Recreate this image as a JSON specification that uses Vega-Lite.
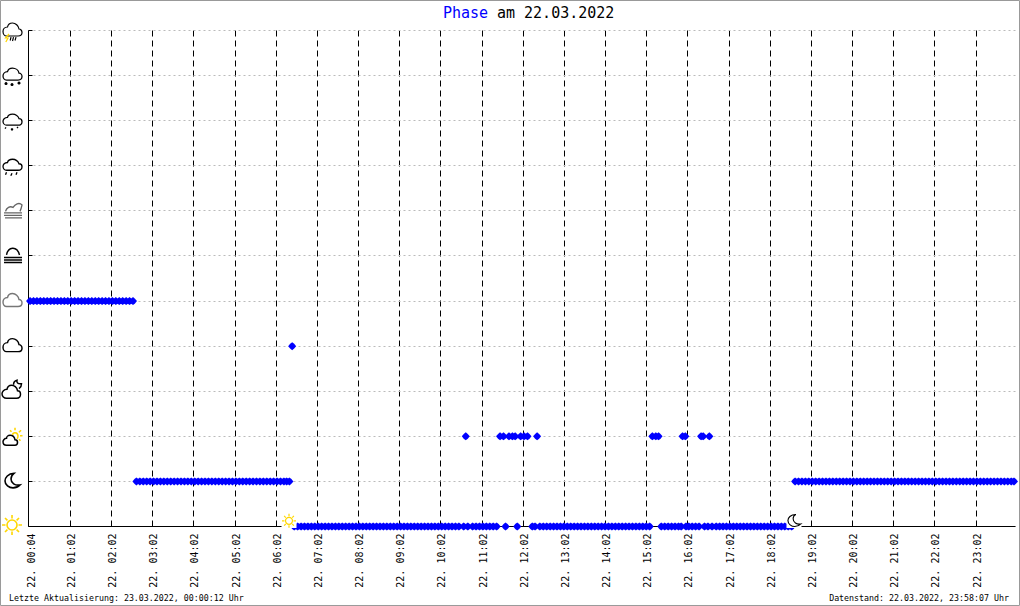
{
"$schema":"https://vega.github.io/schema/vega-lite/v6.json",
"autosize":{"type":"none"},
"padding":{"left":28,"top":30,"right":5,"bottom":80},
"width":987,"height":496,
"background":"#ffffff",
"config":{"view":{"stroke":null},"font":"DejaVu Sans Mono"},
"layer":[
{"data":{"values":[
{"t":"2022-03-22T00:04Z","phase":5},{"t":"2022-03-22T00:09Z","phase":5},{"t":"2022-03-22T00:14Z","phase":5},{"t":"2022-03-22T00:19Z","phase":5},{"t":"2022-03-22T00:24Z","phase":5},{"t":"2022-03-22T00:29Z","phase":5},{"t":"2022-03-22T00:34Z","phase":5},{"t":"2022-03-22T00:39Z","phase":5},{"t":"2022-03-22T00:44Z","phase":5},{"t":"2022-03-22T00:49Z","phase":5},{"t":"2022-03-22T00:54Z","phase":5},{"t":"2022-03-22T00:59Z","phase":5},
{"t":"2022-03-22T01:04Z","phase":5},{"t":"2022-03-22T01:09Z","phase":5},{"t":"2022-03-22T01:14Z","phase":5},{"t":"2022-03-22T01:19Z","phase":5},{"t":"2022-03-22T01:24Z","phase":5},{"t":"2022-03-22T01:29Z","phase":5},{"t":"2022-03-22T01:34Z","phase":5},{"t":"2022-03-22T01:39Z","phase":5},{"t":"2022-03-22T01:44Z","phase":5},{"t":"2022-03-22T01:49Z","phase":5},{"t":"2022-03-22T01:54Z","phase":5},{"t":"2022-03-22T01:59Z","phase":5},
{"t":"2022-03-22T02:04Z","phase":5},{"t":"2022-03-22T02:09Z","phase":5},{"t":"2022-03-22T02:14Z","phase":5},{"t":"2022-03-22T02:19Z","phase":5},{"t":"2022-03-22T02:24Z","phase":5},{"t":"2022-03-22T02:29Z","phase":5},{"t":"2022-03-22T02:34Z","phase":5},
{"t":"2022-03-22T02:39Z","phase":1},{"t":"2022-03-22T02:44Z","phase":1},{"t":"2022-03-22T02:49Z","phase":1},{"t":"2022-03-22T02:54Z","phase":1},{"t":"2022-03-22T02:59Z","phase":1},
{"t":"2022-03-22T03:04Z","phase":1},{"t":"2022-03-22T03:09Z","phase":1},{"t":"2022-03-22T03:14Z","phase":1},{"t":"2022-03-22T03:19Z","phase":1},{"t":"2022-03-22T03:24Z","phase":1},{"t":"2022-03-22T03:29Z","phase":1},{"t":"2022-03-22T03:34Z","phase":1},{"t":"2022-03-22T03:39Z","phase":1},{"t":"2022-03-22T03:44Z","phase":1},{"t":"2022-03-22T03:49Z","phase":1},{"t":"2022-03-22T03:54Z","phase":1},{"t":"2022-03-22T03:59Z","phase":1},
{"t":"2022-03-22T04:04Z","phase":1},{"t":"2022-03-22T04:09Z","phase":1},{"t":"2022-03-22T04:14Z","phase":1},{"t":"2022-03-22T04:19Z","phase":1},{"t":"2022-03-22T04:24Z","phase":1},{"t":"2022-03-22T04:29Z","phase":1},{"t":"2022-03-22T04:34Z","phase":1},{"t":"2022-03-22T04:39Z","phase":1},{"t":"2022-03-22T04:44Z","phase":1},{"t":"2022-03-22T04:49Z","phase":1},{"t":"2022-03-22T04:54Z","phase":1},{"t":"2022-03-22T04:59Z","phase":1},
{"t":"2022-03-22T05:04Z","phase":1},{"t":"2022-03-22T05:09Z","phase":1},{"t":"2022-03-22T05:14Z","phase":1},{"t":"2022-03-22T05:19Z","phase":1},{"t":"2022-03-22T05:24Z","phase":1},{"t":"2022-03-22T05:29Z","phase":1},{"t":"2022-03-22T05:34Z","phase":1},{"t":"2022-03-22T05:39Z","phase":1},{"t":"2022-03-22T05:44Z","phase":1},{"t":"2022-03-22T05:49Z","phase":1},{"t":"2022-03-22T05:54Z","phase":1},{"t":"2022-03-22T05:59Z","phase":1},
{"t":"2022-03-22T06:04Z","phase":1},{"t":"2022-03-22T06:09Z","phase":1},{"t":"2022-03-22T06:14Z","phase":1},{"t":"2022-03-22T06:18Z","phase":1},{"t":"2022-03-22T06:22Z","phase":1},
{"t":"2022-03-22T06:26Z","phase":4},
{"t":"2022-03-22T06:29Z","phase":0},{"t":"2022-03-22T06:34Z","phase":0},{"t":"2022-03-22T06:39Z","phase":0},{"t":"2022-03-22T06:44Z","phase":0},{"t":"2022-03-22T06:49Z","phase":0},{"t":"2022-03-22T06:54Z","phase":0},{"t":"2022-03-22T06:59Z","phase":0},
{"t":"2022-03-22T07:04Z","phase":0},{"t":"2022-03-22T07:09Z","phase":0},{"t":"2022-03-22T07:14Z","phase":0},{"t":"2022-03-22T07:19Z","phase":0},{"t":"2022-03-22T07:24Z","phase":0},{"t":"2022-03-22T07:29Z","phase":0},{"t":"2022-03-22T07:34Z","phase":0},{"t":"2022-03-22T07:39Z","phase":0},{"t":"2022-03-22T07:44Z","phase":0},{"t":"2022-03-22T07:49Z","phase":0},{"t":"2022-03-22T07:54Z","phase":0},{"t":"2022-03-22T07:59Z","phase":0},
{"t":"2022-03-22T08:04Z","phase":0},{"t":"2022-03-22T08:09Z","phase":0},{"t":"2022-03-22T08:14Z","phase":0},{"t":"2022-03-22T08:19Z","phase":0},{"t":"2022-03-22T08:24Z","phase":0},{"t":"2022-03-22T08:29Z","phase":0},{"t":"2022-03-22T08:34Z","phase":0},{"t":"2022-03-22T08:39Z","phase":0},{"t":"2022-03-22T08:44Z","phase":0},{"t":"2022-03-22T08:49Z","phase":0},{"t":"2022-03-22T08:54Z","phase":0},{"t":"2022-03-22T08:59Z","phase":0},
{"t":"2022-03-22T09:04Z","phase":0},{"t":"2022-03-22T09:09Z","phase":0},{"t":"2022-03-22T09:14Z","phase":0},{"t":"2022-03-22T09:19Z","phase":0},{"t":"2022-03-22T09:24Z","phase":0},{"t":"2022-03-22T09:29Z","phase":0},{"t":"2022-03-22T09:34Z","phase":0},{"t":"2022-03-22T09:39Z","phase":0},{"t":"2022-03-22T09:44Z","phase":0},{"t":"2022-03-22T09:49Z","phase":0},{"t":"2022-03-22T09:54Z","phase":0},{"t":"2022-03-22T09:59Z","phase":0},
{"t":"2022-03-22T10:04Z","phase":0},{"t":"2022-03-22T10:09Z","phase":0},{"t":"2022-03-22T10:14Z","phase":0},{"t":"2022-03-22T10:19Z","phase":0},{"t":"2022-03-22T10:24Z","phase":0},{"t":"2022-03-22T10:29Z","phase":0},{"t":"2022-03-22T10:36Z","phase":0},{"t":"2022-03-22T10:39Z","phase":2},{"t":"2022-03-22T10:42Z","phase":0},{"t":"2022-03-22T10:49Z","phase":0},{"t":"2022-03-22T10:54Z","phase":0},{"t":"2022-03-22T10:59Z","phase":0},
{"t":"2022-03-22T11:04Z","phase":0},{"t":"2022-03-22T11:09Z","phase":0},{"t":"2022-03-22T11:14Z","phase":0},{"t":"2022-03-22T11:19Z","phase":0},{"t":"2022-03-22T11:24Z","phase":0},
{"t":"2022-03-22T11:29Z","phase":2},{"t":"2022-03-22T11:34Z","phase":2},{"t":"2022-03-22T11:37Z","phase":0},{"t":"2022-03-22T11:42Z","phase":2},{"t":"2022-03-22T11:47Z","phase":2},{"t":"2022-03-22T11:51Z","phase":2},{"t":"2022-03-22T11:54Z","phase":0},{"t":"2022-03-22T11:59Z","phase":2},{"t":"2022-03-22T12:04Z","phase":2},{"t":"2022-03-22T12:09Z","phase":2},
{"t":"2022-03-22T12:16Z","phase":0},{"t":"2022-03-22T12:20Z","phase":0},{"t":"2022-03-22T12:23Z","phase":2},{"t":"2022-03-22T12:27Z","phase":0},{"t":"2022-03-22T12:32Z","phase":0},{"t":"2022-03-22T12:37Z","phase":0},{"t":"2022-03-22T12:42Z","phase":0},{"t":"2022-03-22T12:47Z","phase":0},{"t":"2022-03-22T12:52Z","phase":0},{"t":"2022-03-22T12:57Z","phase":0},
{"t":"2022-03-22T13:02Z","phase":0},{"t":"2022-03-22T13:07Z","phase":0},{"t":"2022-03-22T13:12Z","phase":0},{"t":"2022-03-22T13:17Z","phase":0},{"t":"2022-03-22T13:22Z","phase":0},{"t":"2022-03-22T13:27Z","phase":0},{"t":"2022-03-22T13:32Z","phase":0},{"t":"2022-03-22T13:37Z","phase":0},{"t":"2022-03-22T13:42Z","phase":0},{"t":"2022-03-22T13:47Z","phase":0},{"t":"2022-03-22T13:52Z","phase":0},{"t":"2022-03-22T13:57Z","phase":0},
{"t":"2022-03-22T14:02Z","phase":0},{"t":"2022-03-22T14:07Z","phase":0},{"t":"2022-03-22T14:12Z","phase":0},{"t":"2022-03-22T14:17Z","phase":0},{"t":"2022-03-22T14:22Z","phase":0},{"t":"2022-03-22T14:27Z","phase":0},{"t":"2022-03-22T14:32Z","phase":0},{"t":"2022-03-22T14:37Z","phase":0},{"t":"2022-03-22T14:42Z","phase":0},{"t":"2022-03-22T14:47Z","phase":0},{"t":"2022-03-22T14:52Z","phase":0},{"t":"2022-03-22T14:57Z","phase":0},
{"t":"2022-03-22T15:02Z","phase":0},{"t":"2022-03-22T15:07Z","phase":0},{"t":"2022-03-22T15:11Z","phase":2},{"t":"2022-03-22T15:16Z","phase":2},{"t":"2022-03-22T15:20Z","phase":2},
{"t":"2022-03-22T15:24Z","phase":0},{"t":"2022-03-22T15:29Z","phase":0},{"t":"2022-03-22T15:34Z","phase":0},{"t":"2022-03-22T15:39Z","phase":0},{"t":"2022-03-22T15:44Z","phase":0},{"t":"2022-03-22T15:49Z","phase":0},{"t":"2022-03-22T15:53Z","phase":0},{"t":"2022-03-22T15:55Z","phase":2},{"t":"2022-03-22T15:59Z","phase":2},{"t":"2022-03-22T16:00Z","phase":0},
{"t":"2022-03-22T16:04Z","phase":0},{"t":"2022-03-22T16:09Z","phase":0},{"t":"2022-03-22T16:14Z","phase":0},{"t":"2022-03-22T16:19Z","phase":0},{"t":"2022-03-22T16:22Z","phase":2},{"t":"2022-03-22T16:25Z","phase":2},{"t":"2022-03-22T16:27Z","phase":0},{"t":"2022-03-22T16:32Z","phase":0},{"t":"2022-03-22T16:34Z","phase":2},{"t":"2022-03-22T16:38Z","phase":0},{"t":"2022-03-22T16:44Z","phase":0},{"t":"2022-03-22T16:49Z","phase":0},{"t":"2022-03-22T16:54Z","phase":0},{"t":"2022-03-22T16:59Z","phase":0},
{"t":"2022-03-22T17:04Z","phase":0},{"t":"2022-03-22T17:09Z","phase":0},{"t":"2022-03-22T17:14Z","phase":0},{"t":"2022-03-22T17:19Z","phase":0},{"t":"2022-03-22T17:24Z","phase":0},{"t":"2022-03-22T17:29Z","phase":0},{"t":"2022-03-22T17:34Z","phase":0},{"t":"2022-03-22T17:39Z","phase":0},{"t":"2022-03-22T17:44Z","phase":0},{"t":"2022-03-22T17:49Z","phase":0},{"t":"2022-03-22T17:54Z","phase":0},{"t":"2022-03-22T17:59Z","phase":0},
{"t":"2022-03-22T18:04Z","phase":0},{"t":"2022-03-22T18:09Z","phase":0},{"t":"2022-03-22T18:14Z","phase":0},{"t":"2022-03-22T18:19Z","phase":0},{"t":"2022-03-22T18:24Z","phase":0},{"t":"2022-03-22T18:29Z","phase":0},{"t":"2022-03-22T18:34Z","phase":0},
{"t":"2022-03-22T18:39Z","phase":1},{"t":"2022-03-22T18:44Z","phase":1},{"t":"2022-03-22T18:49Z","phase":1},{"t":"2022-03-22T18:54Z","phase":1},{"t":"2022-03-22T18:59Z","phase":1},
{"t":"2022-03-22T19:04Z","phase":1},{"t":"2022-03-22T19:09Z","phase":1},{"t":"2022-03-22T19:14Z","phase":1},{"t":"2022-03-22T19:19Z","phase":1},{"t":"2022-03-22T19:24Z","phase":1},{"t":"2022-03-22T19:29Z","phase":1},{"t":"2022-03-22T19:34Z","phase":1},{"t":"2022-03-22T19:39Z","phase":1},{"t":"2022-03-22T19:44Z","phase":1},{"t":"2022-03-22T19:49Z","phase":1},{"t":"2022-03-22T19:54Z","phase":1},{"t":"2022-03-22T19:59Z","phase":1},
{"t":"2022-03-22T20:04Z","phase":1},{"t":"2022-03-22T20:09Z","phase":1},{"t":"2022-03-22T20:14Z","phase":1},{"t":"2022-03-22T20:19Z","phase":1},{"t":"2022-03-22T20:24Z","phase":1},{"t":"2022-03-22T20:29Z","phase":1},{"t":"2022-03-22T20:34Z","phase":1},{"t":"2022-03-22T20:39Z","phase":1},{"t":"2022-03-22T20:44Z","phase":1},{"t":"2022-03-22T20:49Z","phase":1},{"t":"2022-03-22T20:54Z","phase":1},{"t":"2022-03-22T20:59Z","phase":1},
{"t":"2022-03-22T21:04Z","phase":1},{"t":"2022-03-22T21:09Z","phase":1},{"t":"2022-03-22T21:14Z","phase":1},{"t":"2022-03-22T21:19Z","phase":1},{"t":"2022-03-22T21:24Z","phase":1},{"t":"2022-03-22T21:29Z","phase":1},{"t":"2022-03-22T21:34Z","phase":1},{"t":"2022-03-22T21:39Z","phase":1},{"t":"2022-03-22T21:44Z","phase":1},{"t":"2022-03-22T21:49Z","phase":1},{"t":"2022-03-22T21:54Z","phase":1},{"t":"2022-03-22T21:59Z","phase":1},
{"t":"2022-03-22T22:04Z","phase":1},{"t":"2022-03-22T22:09Z","phase":1},{"t":"2022-03-22T22:14Z","phase":1},{"t":"2022-03-22T22:19Z","phase":1},{"t":"2022-03-22T22:24Z","phase":1},{"t":"2022-03-22T22:29Z","phase":1},{"t":"2022-03-22T22:34Z","phase":1},{"t":"2022-03-22T22:39Z","phase":1},{"t":"2022-03-22T22:44Z","phase":1},{"t":"2022-03-22T22:49Z","phase":1},{"t":"2022-03-22T22:54Z","phase":1},{"t":"2022-03-22T22:59Z","phase":1},
{"t":"2022-03-22T23:04Z","phase":1},{"t":"2022-03-22T23:09Z","phase":1},{"t":"2022-03-22T23:14Z","phase":1},{"t":"2022-03-22T23:19Z","phase":1},{"t":"2022-03-22T23:24Z","phase":1},{"t":"2022-03-22T23:29Z","phase":1},{"t":"2022-03-22T23:34Z","phase":1},{"t":"2022-03-22T23:39Z","phase":1},{"t":"2022-03-22T23:44Z","phase":1},{"t":"2022-03-22T23:49Z","phase":1},{"t":"2022-03-22T23:54Z","phase":1},{"t":"2022-03-22T23:58Z","phase":1}
]},
"mark":{"type":"point","shape":"M-1 0 L-0.5 -0.6 L0 -1 L0.5 -0.6 L1 0 L0.5 0.6 L0 1 L-0.5 0.6 Z","filled":true,"size":64,"opacity":1,"color":"#0000ff","yOffset":0.5},
"encoding":{
"x":{"field":"t","type":"temporal","scale":{"type":"utc","domain":["2022-03-22T00:01:00Z","2022-03-22T23:59:30Z"]},
"axis":{"title":null,"orient":"bottom","domain":true,"domainColor":"#000000","domainWidth":1,"ticks":false,
"values":[{"year":2022,"month":3,"date":22,"hours":0,"minutes":4,"utc":true},{"year":2022,"month":3,"date":22,"hours":1,"minutes":2,"utc":true},{"year":2022,"month":3,"date":22,"hours":2,"minutes":2,"utc":true},{"year":2022,"month":3,"date":22,"hours":3,"minutes":2,"utc":true},{"year":2022,"month":3,"date":22,"hours":4,"minutes":2,"utc":true},{"year":2022,"month":3,"date":22,"hours":5,"minutes":2,"utc":true},{"year":2022,"month":3,"date":22,"hours":6,"minutes":2,"utc":true},{"year":2022,"month":3,"date":22,"hours":7,"minutes":2,"utc":true},{"year":2022,"month":3,"date":22,"hours":8,"minutes":2,"utc":true},{"year":2022,"month":3,"date":22,"hours":9,"minutes":2,"utc":true},{"year":2022,"month":3,"date":22,"hours":10,"minutes":2,"utc":true},{"year":2022,"month":3,"date":22,"hours":11,"minutes":2,"utc":true},{"year":2022,"month":3,"date":22,"hours":12,"minutes":2,"utc":true},{"year":2022,"month":3,"date":22,"hours":13,"minutes":2,"utc":true},{"year":2022,"month":3,"date":22,"hours":14,"minutes":2,"utc":true},{"year":2022,"month":3,"date":22,"hours":15,"minutes":2,"utc":true},{"year":2022,"month":3,"date":22,"hours":16,"minutes":2,"utc":true},{"year":2022,"month":3,"date":22,"hours":17,"minutes":2,"utc":true},{"year":2022,"month":3,"date":22,"hours":18,"minutes":2,"utc":true},{"year":2022,"month":3,"date":22,"hours":19,"minutes":2,"utc":true},{"year":2022,"month":3,"date":22,"hours":20,"minutes":2,"utc":true},{"year":2022,"month":3,"date":22,"hours":21,"minutes":2,"utc":true},{"year":2022,"month":3,"date":22,"hours":22,"minutes":2,"utc":true},{"year":2022,"month":3,"date":22,"hours":23,"minutes":2,"utc":true}],
"format":"%d. %H:%M","labelAngle":-90,"labelFont":"DejaVu Sans Mono","labelFontSize":10,"labelColor":"#000000","labelPadding":7,"labelOffset":1.5,"labelOverlap":false,"labelFlush":false,"labelBound":false,
"grid":true,"gridColor":"#000000","gridWidth":1,"gridDash":[6,4],"gridOpacity":{"condition":{"test":"+datum.value < +utc(2022,2,22,0,30)","value":0},"value":1}}},
"y":{"field":"phase","type":"quantitative","scale":{"domain":[0,11],"nice":false,"zero":false},
"axis":{"title":null,"orient":"left","values":[0,1,2,3,4,5,6,7,8,9,10,11],"labels":false,"domain":true,"domainColor":"#000000","domainWidth":1,"ticks":true,"tickSize":-4,"tickColor":"#000000","tickWidth":1,"grid":true,"gridColor":"#bbbbbb","gridWidth":1,"gridDash":[2,3]}}
}},
{"mark":{"type":"rule","color":"#000000","strokeWidth":1},"encoding":{
"x":{"datum":{"year":2022,"month":3,"date":22,"hours":23,"minutes":59,"seconds":30,"utc":true},"type":"temporal","scale":{"type":"utc","domain":["2022-03-22T00:01:00Z","2022-03-22T23:59:30Z"]}},
"y":{"datum":0,"type":"quantitative","scale":{"domain":[0,11],"nice":false,"zero":false}},"y2":{"datum":11}}},
{"data":{"values":[{"t":"2022-03-22T06:21:24Z","phase":0.122,"event":"Sonnenaufgang"},{"t":"2022-03-22T18:37:24Z","phase":0.122,"event":"Sonnenuntergang"}]},
"mark":{"type":"point","shape":"square","filled":true,"size":225,"opacity":1,"color":"#ffffff","strokeWidth":0},
"encoding":{
"x":{"field":"t","type":"temporal","scale":{"type":"utc","domain":["2022-03-22T00:01:00Z","2022-03-22T23:59:30Z"]}},
"y":{"field":"phase","type":"quantitative","scale":{"domain":[0,11],"nice":false,"zero":false}}}},
{"data":{"values":[{"t":"2022-03-22T06:21:24Z","phase":0.1,"event":"Sonnenaufgang"}]},
"mark":{"type":"point","filled":false,"size":196,"opacity":1,"stroke":"#ffd700","strokeWidth":1.2,"shape":"M0.5 -0.1 C0.5 0.176 0.276 0.4 0 0.4 C-0.276 0.4 -0.5 0.176 -0.5 -0.1 C-0.5 -0.376 -0.276 -0.6 0 -0.6 C0.276 -0.6 0.5 -0.376 0.5 -0.1 Z M0 -0.75 L0 -1.1 M0 0.55 L0 0.9 M0.65 -0.1 L1 -0.1 M-0.65 -0.1 L-1 -0.1 M0.46 -0.56 L0.7 -0.8 M-0.46 -0.56 L-0.7 -0.8 M0.46 0.36 L0.7 0.6 M-0.46 0.36 L-0.7 0.6"},
"encoding":{
"x":{"field":"t","type":"temporal","scale":{"type":"utc","domain":["2022-03-22T00:01:00Z","2022-03-22T23:59:30Z"]}},
"y":{"field":"phase","type":"quantitative","scale":{"domain":[0,11],"nice":false,"zero":false}}}},
{"data":{"values":[{"t":"2022-03-22T18:37:24Z","phase":0.122,"event":"Sonnenuntergang"}]},
"mark":{"type":"point","filled":false,"size":300,"opacity":1,"stroke":"#000000","strokeWidth":1.1,"shape":"M0.2 -0.7 C-0.4 -0.7 -0.7 -0.3 -0.7 0 C-0.7 0.4 -0.3 0.7 0.1 0.7 C0.4 0.7 0.6 0.6 0.8 0.4 C0.3 0.5 -0.1 0.2 -0.1 -0.2 C-0.1 -0.4 0 -0.6 0.2 -0.7 Z"},
"encoding":{
"x":{"field":"t","type":"temporal","scale":{"type":"utc","domain":["2022-03-22T00:01:00Z","2022-03-22T23:59:30Z"]}},
"y":{"field":"phase","type":"quantitative","scale":{"domain":[0,11],"nice":false,"zero":false}}}},
{"data":{"values":[
{"phase":11,"icon":"thunder"},{"phase":11,"icon":"bolt"},{"phase":10,"icon":"heavysnow"},{"phase":9,"icon":"snow"},{"phase":8,"icon":"rain"},{"phase":7,"icon":"fogsun"},{"phase":6,"icon":"fog"},{"phase":5,"icon":"overcast"},{"phase":4,"icon":"cloud"},{"phase":3,"icon":"mooncloud"},{"phase":2,"icon":"suncloud"},{"phase":2,"icon":"sunpart"},{"phase":1,"icon":"moon"},{"phase":0,"icon":"sun"}
]},
"mark":{"type":"point","filled":false,"size":400,"opacity":1},
"encoding":{
"x":{"datum":{"year":2022,"month":3,"date":21,"hours":23,"minutes":37,"seconds":42,"utc":true},"type":"temporal","scale":{"type":"utc","domain":["2022-03-22T00:01:00Z","2022-03-22T23:59:30Z"]}},
"y":{"field":"phase","type":"quantitative","scale":{"domain":[0,11],"nice":false,"zero":false}},
"stroke":{"field":"icon","type":"nominal","legend":null,"scale":{"domain":["thunder","bolt","heavysnow","snow","rain","fogsun","fog","overcast","cloud","mooncloud","suncloud","sunpart","moon","sun"],"range":["#000000","#ffd700","#000000","#000000","#000000","#666666","#000000","#777777","#000000","#000000","#000000","#ffd700","#000000","#ffd700"]}},
"strokeWidth":{"field":"icon","type":"nominal","legend":null,"scale":{"domain":["thunder","bolt","heavysnow","snow","rain","fogsun","fog","overcast","cloud","mooncloud","suncloud","sunpart","moon","sun"],"range":[1.2,1.6,1.1,1.2,1.2,1.1,1.2,1.7,1.2,1.3,1.4,1,1.2,1.7]}},
"shape":{"field":"icon","type":"nominal","legend":null,"scale":{"domain":["thunder","bolt","heavysnow","snow","rain","fogsun","fog","overcast","cloud","mooncloud","suncloud","sunpart","moon","sun"],"range":[
"M-0.55 0.6 L0.6 0.6 C0.9 0.6 1 0.4 1 0.25 C1 0.05 0.85 -0.1 0.7 -0.1 C0.65 -0.45 0.35 -0.7 0.05 -0.7 C-0.2 -0.7 -0.4 -0.55 -0.45 -0.3 C-0.75 -0.3 -0.9 -0.05 -0.9 0.15 C-0.9 0.4 -0.75 0.6 -0.55 0.6 Z M0.15 0.72 L0.05 1.1 M0.4 0.72 L0.3 1.05 M-0.1 0.72 L-0.18 1.05",
"M-0.3 0.4 L-0.65 0.8 L-0.4 0.8 L-0.62 1.2",
"M-0.55 0.5 L0.6 0.5 C0.9 0.5 1 0.3 1 0.15 C1 -0.05 0.85 -0.2 0.7 -0.2 C0.65 -0.5 0.35 -0.7 0.05 -0.7 C-0.2 -0.7 -0.4 -0.55 -0.45 -0.35 C-0.75 -0.35 -0.9 -0.1 -0.9 0.1 C-0.9 0.3 -0.75 0.5 -0.55 0.5 Z M-0.75 0.85 L-0.45 0.85 M-0.6 0.7 L-0.6 1 M-0.7 0.75 L-0.5 0.95 M-0.7 0.95 L-0.5 0.75 M-0.15 0.95 L0.15 0.95 M0 0.8 L0 1.1 M-0.1 0.85 L0.1 1.05 M-0.1 1.05 L0.1 0.85 M0.55 0.8 L0.85 0.8 M0.7 0.65 L0.7 0.95 M0.6 0.7 L0.8 0.9 M0.6 0.9 L0.8 0.7",
"M-0.55 0.5 L0.6 0.5 C0.9 0.5 1 0.3 1 0.15 C1 -0.05 0.85 -0.15 0.7 -0.15 C0.65 -0.4 0.35 -0.6 0.05 -0.6 C-0.2 -0.6 -0.4 -0.5 -0.45 -0.28 C-0.75 -0.28 -0.9 -0.05 -0.9 0.1 C-0.9 0.3 -0.75 0.5 -0.55 0.5 Z M-0.7 0.85 L-0.6 0.72 M-0.12 0.92 L0.12 0.92 M0 0.8 L0 1.04 M-0.08 0.84 L0.08 1 M-0.08 1 L0.08 0.84 M0.5 0.8 L0.6 0.67",
"M-0.55 0.5 L0.6 0.5 C0.9 0.5 1 0.3 1 0.15 C1 -0.05 0.85 -0.15 0.7 -0.15 C0.65 -0.4 0.35 -0.6 0.05 -0.6 C-0.2 -0.6 -0.4 -0.5 -0.45 -0.28 C-0.75 -0.28 -0.9 -0.05 -0.9 0.1 C-0.9 0.3 -0.75 0.5 -0.55 0.5 Z M-0.55 0.7 L-0.65 0.95 M0 0.8 L-0.12 1.05 M0.5 0.7 L0.4 0.95",
"M-0.8 0.25 L1 0.25 M-0.8 0.5 L1 0.5 M-0.7 0.75 L1 0.75 M-0.65 0.1 C-0.55 -0.3 -0.2 -0.45 0.1 -0.3 C0.3 -0.6 0.7 -0.85 1 -0.55 C0.95 -0.3 0.9 -0.1 0.8 0.1",
"M-0.8 0.2 L1 0.2 M-0.8 0.45 L1 0.45 M-0.8 0.7 L1 0.7 M-0.55 -0.05 C-0.4 -0.9 0.5 -1 0.75 -0.05",
"M-0.55 0.6 L0.6 0.6 C0.9 0.6 1 0.4 1 0.25 C1 0.05 0.85 -0.1 0.7 -0.1 C0.65 -0.45 0.35 -0.7 0.05 -0.7 C-0.2 -0.7 -0.4 -0.55 -0.45 -0.3 C-0.75 -0.3 -0.9 -0.05 -0.9 0.15 C-0.9 0.4 -0.75 0.6 -0.55 0.6 Z",
"M-0.55 0.6 L0.6 0.6 C0.9 0.6 1 0.4 1 0.25 C1 0.05 0.85 -0.1 0.7 -0.1 C0.65 -0.45 0.35 -0.7 0.05 -0.7 C-0.2 -0.7 -0.4 -0.55 -0.45 -0.3 C-0.75 -0.3 -0.9 -0.05 -0.9 0.15 C-0.9 0.4 -0.75 0.6 -0.55 0.6 Z",
"M-0.55 0.75 L0.45 0.75 C0.75 0.75 0.85 0.55 0.85 0.35 C0.85 0.1 0.7 0 0.55 0 C0.5 -0.35 0.2 -0.55 -0.05 -0.55 C-0.3 -0.55 -0.45 -0.4 -0.5 -0.15 C-0.8 -0.15 -1 0.1 -1 0.3 C-1 0.55 -0.8 0.75 -0.55 0.75 Z M0.15 -0.6 C0.15 -0.8 0.3 -1 0.5 -1.05 C0.45 -0.85 0.55 -0.65 0.95 -0.7 C0.95 -0.5 0.85 -0.3 0.7 -0.2",
"M-0.55 0.95 L0.3 0.95 C0.5 0.95 0.55 0.8 0.55 0.65 C0.55 0.5 0.45 0.4 0.3 0.4 C0.25 0.1 0.05 -0.05 -0.2 -0.05 C-0.4 -0.05 -0.55 0.1 -0.55 0.25 C-0.75 0.25 -0.9 0.45 -0.9 0.6 C-0.9 0.8 -0.75 0.95 -0.55 0.95 Z",
"M0.05 -0.1 C0.1 -0.4 0.55 -0.4 0.6 0 C0.6 0.15 0.55 0.25 0.5 0.3 M0.3 -0.55 L0.3 -0.8 M0.7 -0.35 L0.9 -0.55 M0.8 0 L1.05 0 M-0.05 -0.4 L-0.2 -0.55 M0.7 0.35 L0.85 0.5",
"M0.2 -0.75 C-0.4 -0.75 -0.7 -0.3 -0.7 0 C-0.7 0.4 -0.3 0.7 0.1 0.7 C0.4 0.7 0.6 0.6 0.8 0.4 C0.3 0.5 -0.1 0.2 -0.1 -0.2 C-0.1 -0.4 0 -0.6 0.2 -0.75 Z",
"M0.5 -0.1 C0.5 0.176 0.276 0.4 0 0.4 C-0.276 0.4 -0.5 0.176 -0.5 -0.1 C-0.5 -0.376 -0.276 -0.6 0 -0.6 C0.276 -0.6 0.5 -0.376 0.5 -0.1 Z M0 -0.75 L0 -1.1 M0 0.55 L0 0.9 M0.65 -0.1 L1 -0.1 M-0.65 -0.1 L-1 -0.1 M0.46 -0.56 L0.7 -0.8 M-0.46 -0.56 L-0.7 -0.8 M0.46 0.36 L0.7 0.6 M-0.46 0.36 L-0.7 0.6"
]}}
}},
{"data":{"values":[{"label":"Phase"}]},
"mark":{"type":"text","align":"left","baseline":"alphabetic","font":"DejaVu Sans Mono","fontSize":15,"color":"#0000ff"},
"encoding":{
"x":{"datum":{"year":2022,"month":3,"date":22,"hours":10,"minutes":5,"seconds":48,"utc":true},"type":"temporal","scale":{"type":"utc","domain":["2022-03-22T00:01:00Z","2022-03-22T23:59:30Z"]}},
"y":{"datum":11.266,"type":"quantitative","scale":{"domain":[0,11],"nice":false,"zero":false}},
"text":{"field":"label"}}},
{"data":{"values":[{"label":"am 22.03.2022"}]},
"mark":{"type":"text","align":"left","baseline":"alphabetic","font":"DejaVu Sans Mono","fontSize":15,"color":"#000000"},
"encoding":{
"x":{"datum":{"year":2022,"month":3,"date":22,"hours":11,"minutes":24,"seconds":30,"utc":true},"type":"temporal","scale":{"type":"utc","domain":["2022-03-22T00:01:00Z","2022-03-22T23:59:30Z"]}},
"y":{"datum":11.266,"type":"quantitative","scale":{"domain":[0,11],"nice":false,"zero":false}},
"text":{"field":"label"}}},
{"data":{"values":[{"label":"Letzte Aktualisierung: 23.03.2022, 00:00:12 Uhr"}]},
"mark":{"type":"text","align":"left","baseline":"alphabetic","font":"DejaVu Sans Mono","fontSize":8.3,"color":"#000000"},
"encoding":{
"x":{"datum":{"year":2022,"month":3,"date":21,"hours":23,"minutes":33,"seconds":18,"utc":true},"type":"temporal","scale":{"type":"utc","domain":["2022-03-22T00:01:00Z","2022-03-22T23:59:30Z"]}},
"y":{"datum":-1.664,"type":"quantitative","scale":{"domain":[0,11],"nice":false,"zero":false}},
"text":{"field":"label"}}},
{"data":{"values":[{"label":"Datenstand: 22.03.2022, 23:58:07 Uhr"}]},
"mark":{"type":"text","align":"right","baseline":"alphabetic","font":"DejaVu Sans Mono","fontSize":8.3,"color":"#000000"},
"encoding":{
"x":{"datum":{"year":2022,"month":3,"date":22,"hours":23,"minutes":50,"seconds":42,"utc":true},"type":"temporal","scale":{"type":"utc","domain":["2022-03-22T00:01:00Z","2022-03-22T23:59:30Z"]}},
"y":{"datum":-1.664,"type":"quantitative","scale":{"domain":[0,11],"nice":false,"zero":false}},
"text":{"field":"label"}}},
{"data":{"values":[{"a":"2022-03-21T23:20:55Z","b":"2022-03-23T00:06:04Z","lo":-1.763,"hi":11.654}]},
"mark":{"type":"rect","fill":"transparent","stroke":"#999999","strokeWidth":1},
"encoding":{
"x":{"field":"a","type":"temporal","scale":{"type":"utc","domain":["2022-03-22T00:01:00Z","2022-03-22T23:59:30Z"]}},
"x2":{"field":"b"},
"y":{"field":"hi","type":"quantitative","scale":{"domain":[0,11],"nice":false,"zero":false}},
"y2":{"field":"lo"}}}
]
}
